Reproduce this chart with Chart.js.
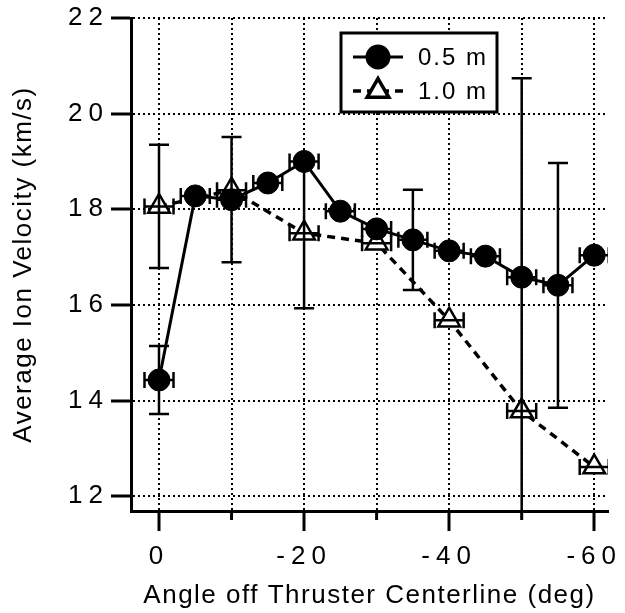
<!DOCTYPE html>
<html>
<head>
<meta charset="utf-8">
<script src="https://cdn.jsdelivr.net/npm/chart.js@4.4.1/dist/chart.umd.min.js"></script>
<style>
  html, body { margin: 0; padding: 0; background: #fff; }
  canvas { display: block; }
</style>
</head>
<body>
<canvas id="ionChart" width="625" height="613"></canvas>
<script>
// values
const angles05 = [0, -5, -10, -15, -20, -25, -30, -35, -40, -45, -50, -55, -60];
const vel05 = [14.43, 18.28, 18.2, 18.55, 19.0, 17.96, 17.59, 17.36, 17.13, 17.02, 16.58, 16.41, 17.04];
const err05 = [0.71, 0, 1.31, 0, 0, 0, 0, 1.05, 0, 0, 0, 2.56, 0];

const angles10 = [0, -10, -20, -30, -40, -50, -60];
const vel10 = [18.06, 18.4, 17.5, 17.29, 15.68, 13.78, 12.61];
const err10 = [1.29, 0, 1.57, 0, 0, 6.96, 0];

const angleErr = 2;
const seriesLabels = ["0.5 m", "1.0 m"];

const FONT = "'Liberation Sans', Arial, Helvetica, sans-serif";

function toPoints(xs, ys) {
  return xs.map((x, i) => ({ x: x, y: ys[i] }));
}

// spaced digits like the original plot
const spacedText = {
  id: "spacedText",
  afterUpdate(chart) {
    Object.values(chart.scales).forEach((s) => {
      if (s._spaced) return;
      const drawLabels = s.drawLabels;
      const drawTitle = s.drawTitle;
      s.drawLabels = function (area) {
        this.ctx.save();
        this.ctx.letterSpacing = "6px";
        drawLabels.call(this, area);
        this.ctx.restore();
      };
      s.drawTitle = function () {
        this.ctx.save();
        this.ctx.letterSpacing = "1.5px";
        drawTitle.call(this);
        this.ctx.restore();
      };
      s._spaced = true;
    });
  },
};

const errorBars = {
  id: "errorBars",
  afterDatasetsDraw(chart) {
    const { ctx, chartArea, scales } = chart;
    const xs = scales.x;
    const ys = scales.y;
    ctx.save();
    ctx.beginPath();
    ctx.rect(chartArea.left, chartArea.top, chartArea.right - chartArea.left, chartArea.bottom - chartArea.top);
    ctx.clip();
    ctx.strokeStyle = "#000";
    ctx.lineWidth = 2.5;
    chart.data.datasets.forEach((ds) => {
      ds.data.forEach((p, i) => {
        const px = xs.getPixelForValue(p.x);
        const py = ys.getPixelForValue(p.y);
        const x1 = xs.getPixelForValue(p.x - ds.xErr);
        const x2 = xs.getPixelForValue(p.x + ds.xErr);
        ctx.beginPath();
        ctx.moveTo(x1, py);
        ctx.lineTo(x2, py);
        ctx.moveTo(x1, py - 8);
        ctx.lineTo(x1, py + 8);
        ctx.moveTo(x2, py - 8);
        ctx.lineTo(x2, py + 8);
        const e = ds.yErr[i];
        if (e > 0) {
          const y1 = ys.getPixelForValue(p.y + e);
          const y2 = ys.getPixelForValue(p.y - e);
          ctx.moveTo(px, y1);
          ctx.lineTo(px, y2);
          ctx.moveTo(px - 10, y1);
          ctx.lineTo(px + 10, y1);
          ctx.moveTo(px - 10, y2);
          ctx.lineTo(px + 10, y2);
        }
        ctx.stroke();
      });
    });
    ctx.restore();
  },
};

const legendBox = {
  id: "legendBox",
  afterDraw(chart) {
    const { ctx, chartArea } = chart;
    const left = chartArea.left + 210;
    const top = chartArea.top + 15;
    const w = 156;
    const h = 79;
    ctx.save();
    ctx.fillStyle = "#fff";
    ctx.strokeStyle = "#000";
    ctx.lineWidth = 3;
    ctx.fillRect(left, top, w, h);
    ctx.strokeRect(left, top, w, h);

    chart.data.datasets.forEach((ds, i) => {
      const cy = top + 24 + i * 34;
      ctx.lineWidth = ds.borderWidth;
      ctx.setLineDash(ds.borderDash || []);
      ctx.beginPath();
      ctx.moveTo(left + 12, cy);
      ctx.lineTo(left + 62, cy);
      ctx.stroke();
      ctx.setLineDash([]);
      ctx.fillStyle = ds.pointBackgroundColor;
      ctx.strokeStyle = "#000";
      Chart.helpers.drawPoint(ctx, {
        pointStyle: ds.pointStyle,
        radius: ds.pointRadius,
        borderWidth: ds.pointBorderWidth,
        rotation: 0,
      }, left + 37, cy);
      ctx.fillStyle = "#000";
      ctx.font = "24px " + FONT;
      ctx.letterSpacing = "2px";
      ctx.textBaseline = "middle";
      ctx.textAlign = "left";
      ctx.fillText(ds.label, left + 77, cy + 1);
    });
    ctx.restore();
  },
};

const tickFont = { family: FONT, size: 26 };

new Chart(document.getElementById("ionChart"), {
  type: "scatter",
  data: {
    datasets: [
      {
        label: seriesLabels[0],
        data: toPoints(angles05, vel05),
        yErr: err05,
        xErr: angleErr,
        showLine: true,
        borderColor: "#000",
        borderWidth: 3,
        pointStyle: "circle",
        pointRadius: 11,
        pointBackgroundColor: "#000",
        pointBorderColor: "#000",
        pointBorderWidth: 1,
        order: 1,
      },
      {
        label: seriesLabels[1],
        data: toPoints(angles10, vel10),
        yErr: err10,
        xErr: angleErr,
        showLine: true,
        borderColor: "#000",
        borderWidth: 3.5,
        borderDash: [8, 6],
        pointStyle: "triangle",
        pointRadius: 12.5,
        pointBackgroundColor: "#fff",
        pointBorderColor: "#000",
        pointBorderWidth: 2.5,
        order: 2,
      },
    ],
  },
  options: {
    responsive: false,
    animation: false,
    devicePixelRatio: 1,
    layout: { padding: { top: 18, right: 17, left: 0, bottom: 0 } },
    plugins: {
      legend: { display: false },
      tooltip: { enabled: false },
    },
    scales: {
      x: {
        type: "linear",
        reverse: true,
        min: -61.9,
        max: 3.86,
        afterFit(s) {
          s.height = 102;
          s.paddingLeft = 0;
          s.paddingRight = 0;
        },
        ticks: {
          stepSize: 10,
          includeBounds: false,
          autoSkip: false,
          maxRotation: 0,
          padding: 10,
          color: "#000",
          font: tickFont,
          callback: (v) => (v % 20 === 0 ? String(v) : ""),
        },
        grid: {
          color: "#000",
          lineWidth: 2,
          tickLength: 20,
          tickWidth: 3,
          tickColor: (c) => (c.tick && c.tick.value % 20 !== 0 ? "rgba(0,0,0,0)" : "#000"),
        },
        border: { color: "#000", width: 3, dash: [2, 3] },
        title: {
          display: true,
          text: "Angle off Thruster Centerline (deg)",
          color: "#000",
          font: tickFont,
          padding: { top: 0, bottom: 2 },
        },
      },
      y: {
        min: 11.69,
        max: 22,
        afterFit(s) {
          s.width = 131;
          s.paddingTop = 0;
          s.paddingBottom = 0;
        },
        ticks: {
          stepSize: 2,
          includeBounds: false,
          padding: 2,
          color: "#000",
          font: tickFont,
        },
        grid: {
          color: "#000",
          lineWidth: 2,
          tickLength: 20,
          tickWidth: 3,
        },
        border: { color: "#000", width: 3, dash: [2, 3] },
        title: {
          display: true,
          text: "Average Ion Velocity (km/s)",
          color: "#000",
          font: tickFont,
          padding: { top: 8, bottom: 0 },
        },
      },
    },
  },
  plugins: [
    spacedText,
    errorBars,
    legendBox,
    {
      id: "minorTicks",
      afterDraw(chart) {
        const { ctx, chartArea, scales } = chart;
        ctx.save();
        ctx.strokeStyle = "#000";
        ctx.lineWidth = 3;
        scales.x.ticks.forEach((t) => {
          if (t.value % 20 === 0) return;
          const px = scales.x.getPixelForValue(t.value);
          ctx.beginPath();
          ctx.moveTo(px, chartArea.bottom);
          ctx.lineTo(px, chartArea.bottom + 9);
          ctx.stroke();
        });
        ctx.restore();
      },
    },
  ],
});
</script>
</body>
</html>
